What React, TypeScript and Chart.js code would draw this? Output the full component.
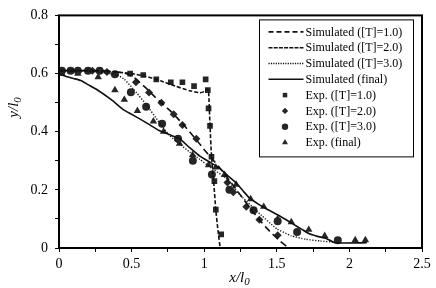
import { useEffect, useRef } from 'react';
import { Chart, registerables } from 'chart.js';
import { drawPoint } from 'chart.js/helpers';

Chart.register(...registerables);

// ---- data (x/l0, y/l0) ----
const simT1: number[][] = [
  [0, 0.61], [0.2, 0.61], [0.35, 0.607], [0.5, 0.6], [0.6, 0.59], [0.7, 0.575], [0.8, 0.557],
  [0.9, 0.541], [0.97, 0.534], [1.0, 0.538], [1.02, 0.547], [1.03, 0.54], [1.04, 0.42],
  [1.05, 0.32], [1.065, 0.23], [1.08, 0.13], [1.095, 0.06], [1.11, 0],
];
const simT2: number[][] = [
  [0, 0.61], [0.3, 0.61], [0.45, 0.602], [0.52, 0.585], [0.6, 0.55], [0.66, 0.52], [0.72, 0.492],
  [0.77, 0.47], [0.85, 0.428], [0.95, 0.37], [1.0, 0.338], [1.1, 0.28], [1.2, 0.215],
  [1.26, 0.175], [1.32, 0.135], [1.38, 0.097], [1.45, 0.058], [1.52, 0.025], [1.58, 0],
];
const simT3: number[][] = [
  [0, 0.61], [0.28, 0.605], [0.4, 0.595], [0.45, 0.58], [0.51, 0.548], [0.6, 0.494], [0.69, 0.432],
  [0.76, 0.388], [0.84, 0.354], [0.9, 0.33], [0.97, 0.305], [1.05, 0.275], [1.15, 0.24],
  [1.24, 0.186], [1.36, 0.128], [1.5, 0.066], [1.6, 0.042], [1.7, 0.03], [1.8, 0.024], [1.9, 0.02],
];
const simFinal: number[][] = [
  [0, 0.598], [0.05, 0.59], [0.1, 0.583], [0.15, 0.576], [0.2, 0.562], [0.26, 0.545], [0.36, 0.51],
  [0.44, 0.477], [0.5, 0.46], [0.556, 0.444], [0.62, 0.425], [0.69, 0.404], [0.76, 0.39],
  [0.83, 0.376], [0.9, 0.345], [0.97, 0.316], [1.04, 0.295], [1.105, 0.275], [1.16, 0.25],
  [1.22, 0.224], [1.27, 0.195], [1.31, 0.173], [1.37, 0.152], [1.43, 0.134], [1.52, 0.11],
  [1.61, 0.083], [1.67, 0.065], [1.72, 0.05], [1.78, 0.04], [1.84, 0.033], [1.9, 0.018], [2.12, 0.018],
];
const expT1: number[][] = [
  [0.02, 0.61], [0.08, 0.61], [0.2, 0.61], [0.28, 0.61], [0.49, 0.6], [0.58, 0.595], [0.67, 0.58],
  [0.77, 0.57], [0.85, 0.57], [0.93, 0.557], [1.01, 0.58], [1.025, 0.543], [1.03, 0.48],
  [1.04, 0.42], [1.05, 0.314], [1.07, 0.23], [1.08, 0.132], [1.117, 0.047],
];
const expT2: number[][] = [
  [0.02, 0.61], [0.13, 0.61], [0.23, 0.61], [0.33, 0.605], [0.53, 0.57], [0.62, 0.535], [0.705, 0.5],
  [0.79, 0.46], [0.85, 0.423], [0.946, 0.376], [1.16, 0.225], [1.2, 0.192], [1.29, 0.142],
  [1.38, 0.097], [1.506, 0.044],
];
const expT3: number[][] = [
  [0.02, 0.61], [0.08, 0.61], [0.13, 0.61], [0.2, 0.61], [0.28, 0.61], [0.385, 0.598], [0.495, 0.536],
  [0.6, 0.486], [0.71, 0.427], [0.82, 0.376], [0.922, 0.3], [1.053, 0.253], [1.174, 0.2],
  [1.34, 0.13], [1.506, 0.092], [1.64, 0.055], [1.92, 0.027],
];
const expFinal: number[][] = [
  [0.02, 0.6], [0.13, 0.6], [0.27, 0.588], [0.385, 0.543], [0.45, 0.51], [0.54, 0.472], [0.65, 0.436],
  [0.72, 0.4], [0.83, 0.359], [0.92, 0.32], [1.03, 0.285], [1.08, 0.277], [1.14, 0.252],
  [1.22, 0.218], [1.32, 0.168], [1.41, 0.142], [1.506, 0.1], [1.6, 0.089], [1.72, 0.063],
  [1.83, 0.042], [2.04, 0.027], [2.11, 0.027],
];

const seriesLabels = [
  'Simulated ([T]=1.0)', 'Simulated ([T]=2.0)', 'Simulated ([T]=3.0)', 'Simulated (final)',
  'Exp. ([T]=1.0)', 'Exp. ([T]=2.0)', 'Exp. ([T]=3.0)', 'Exp. (final)',
];
const xRange = [0, 2.5];
const yRange = [0, 0.8];
const xLabelStep = 0.5;
const yLabelStep = 0.2;

const FONT = "'Liberation Serif', 'Times New Roman', serif";
const INK = '#111';
const MARK = '#262626';

const toXY = (a: number[][]) => a.map(([x, y]) => ({ x, y }));

const lineDs = (label: string, data: number[][], dash: number[], legendDash: number[], width = 1.6) => ({
  label, data: toXY(data), showLine: true, borderColor: INK, borderWidth: width,
  borderDash: dash, pointRadius: 0, pointHoverRadius: 0, fill: false, tension: 0.15,
  legendDash,
});
const pointDs = (label: string, data: number[][], style: string, r: number) => ({
  label, data: toXY(data), showLine: false, pointStyle: style, pointRadius: r,
  backgroundColor: MARK, borderColor: MARK, pointBorderWidth: 0, borderWidth: 0,
});

const framePlugin = {
  id: 'frame',
  afterDatasetsDraw(chart: any) {
    const { ctx, chartArea: a } = chart;
    ctx.save();
    ctx.strokeStyle = '#000';
    ctx.lineWidth = 2;
    ctx.strokeRect(a.left, a.top, a.right - a.left, a.bottom - a.top);
    ctx.restore();
  },
};

const titlePlugin = {
  id: 'axisTitles',
  afterDraw(chart: any) {
    const { ctx, chartArea: a } = chart;
    const drawTitle = (base: string) => {
      ctx.font = `italic 15px ${FONT}`;
      const w1 = ctx.measureText(base).width;
      ctx.font = `italic 11px ${FONT}`;
      const w2 = ctx.measureText('0').width;
      const total = w1 + w2;
      ctx.font = `italic 15px ${FONT}`;
      ctx.fillText(base, -total / 2, 0);
      ctx.font = `italic 11px ${FONT}`;
      ctx.fillText('0', -total / 2 + w1, 3);
    };
    ctx.save();
    ctx.fillStyle = '#000';
    ctx.textBaseline = 'alphabetic';
    ctx.textAlign = 'left';
    ctx.save();
    ctx.translate((a.left + a.right) / 2 - 1, a.bottom + 34);
    drawTitle('x/l');
    ctx.restore();
    ctx.save();
    ctx.translate(18, a.top + 92);
    ctx.rotate(-Math.PI / 2);
    drawTitle('y/l');
    ctx.restore();
    ctx.restore();
  },
};

const legendPlugin = {
  id: 'boxLegend',
  afterDraw(chart: any) {
    const { ctx, chartArea: a } = chart;
    const bx = a.right - 162.5;
    const by = a.top + 4.5;
    const bw = 154;
    const bh = 137;
    ctx.save();
    ctx.fillStyle = '#fff';
    ctx.fillRect(bx, by, bw, bh);
    ctx.strokeStyle = '#000';
    ctx.lineWidth = 1;
    ctx.strokeRect(bx, by, bw, bh);
    ctx.font = `12px ${FONT}`;
    ctx.textBaseline = 'middle';
    ctx.textAlign = 'left';
    const ds = chart.data.datasets;
    ds.forEach((d: any, i: number) => {
      const y = by + 12 + i * 15.8;
      const x0 = bx + 9;
      const x1 = bx + 44;
      if (d.showLine) {
        ctx.save();
        ctx.strokeStyle = INK;
        ctx.lineWidth = d.borderWidth;
        ctx.setLineDash(d.legendDash || []);
        ctx.beginPath();
        ctx.moveTo(x0, y);
        ctx.lineTo(x1, y);
        ctx.stroke();
        ctx.restore();
      } else {
        ctx.save();
        ctx.fillStyle = MARK;
        ctx.strokeStyle = MARK;
        drawPoint(ctx, { pointStyle: d.pointStyle, radius: d.pointRadius * 0.8, rotation: 0, borderWidth: 0 } as any, (x0 + x1) / 2 - 1, y);
        ctx.restore();
      }
      ctx.fillStyle = '#000';
      ctx.fillText(d.label, bx + 46, y + 0.5);
    });
    ctx.restore();
  },
};

export default function App() {
  const ref = useRef<HTMLCanvasElement | null>(null);
  useEffect(() => {
    if (!ref.current) return;
    const datasets: any[] = [
      lineDs(seriesLabels[0], simT1, [4, 2], [5, 3]),
      lineDs(seriesLabels[1], simT2, [7, 4], [4, 1.2]),
      lineDs(seriesLabels[2], simT3, [1.2, 1.6], [1.2, 1.2], 1.4),
      lineDs(seriesLabels[3], simFinal, [], [], 1.6),
      pointDs(seriesLabels[4], expT1, 'rect', 4),
      pointDs(seriesLabels[5], expT2, 'rectRot', 4),
      pointDs(seriesLabels[6], expT3, 'circle', 4),
      pointDs(seriesLabels[7], expFinal, 'triangle', 4.3),
    ];
    const chart = new Chart(ref.current, {
      type: 'scatter',
      data: { datasets },
      options: {
        animation: false,
        responsive: false,
        maintainAspectRatio: false,
        events: [],
        layout: { padding: { top: 11, right: 14, left: 0, bottom: 0 } },
        plugins: { legend: { display: false }, tooltip: { enabled: false } },
        scales: {
          x: {
            type: 'linear',
            min: xRange[0],
            max: xRange[1],
            afterFit: (s: any) => { s.height = 40; },
            border: { display: false },
            grid: { drawOnChartArea: false, drawTicks: true, tickLength: 4, color: '#000', lineWidth: 1 },
            ticks: {
              stepSize: 0.25,
              padding: 4,
              color: '#000',
              font: { family: FONT, size: 14 },
              maxRotation: 0,
              autoSkip: false,
              callback: (v: any) => {
                const n = Number(v) / xLabelStep;
                return Math.abs(n - Math.round(n)) < 1e-6 ? String(Number(v)) : '';
              },
            },
          },
          y: {
            type: 'linear',
            min: yRange[0],
            max: yRange[1],
            afterFit: (s: any) => { s.width = 59; },
            border: { display: false },
            grid: { drawOnChartArea: false, drawTicks: true, tickLength: 4, color: '#000', lineWidth: 1 },
            ticks: {
              stepSize: 0.1,
              padding: 7,
              color: '#000',
              font: { family: FONT, size: 14 },
              autoSkip: false,
              callback: (v: any) => {
                const n = Number(v) / yLabelStep;
                return Math.abs(n - Math.round(n)) < 1e-6 ? String(Math.round(Number(v) * 10) / 10) : '';
              },
            },
          },
        },
      } as any,
      plugins: [framePlugin, legendPlugin, titlePlugin],
    });
    return () => chart.destroy();
  }, []);
  return (
    <div style={{ position: 'fixed', left: 0, top: 0, width: 436, height: 288, background: '#fff' }}>
      <canvas ref={ref} width={436} height={288} style={{ width: 436, height: 288, display: 'block' }} />
    </div>
  );
}
